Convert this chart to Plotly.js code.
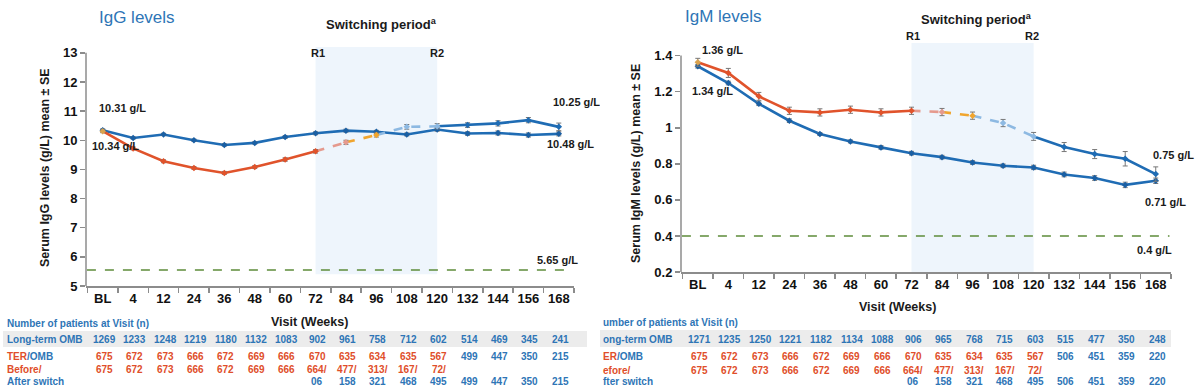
<!DOCTYPE html>
<html><head><meta charset="utf-8">
<script src="https://cdn.plot.ly/plotly-3.0.1.min.js"></script>
<style>
html,body{margin:0;padding:0;background:#fff;overflow:hidden;width:1200px;height:390px}
#igg,#igm{position:absolute;top:0;width:600px;height:390px;overflow:hidden}
#igg{left:0}#igm{left:600px}
</style>
</head><body><div id="igg"></div><div id="igm"></div>
<script>
// ---------------- data ----------------
const visits = ['BL','4','12','24','36','48','60','72','84','96','108','120','132','144','156','168'];

const iggLongTerm   = [10.34,10.08,10.20,10.00,9.84,9.91,10.11,10.24,10.33,10.29,10.20,10.37,10.23,10.25,10.18,10.22];
const iggLongTermSE = [0.05,0.04,0.04,0.04,0.04,0.04,0.05,0.05,0.05,0.05,0.05,0.06,0.06,0.07,0.07,0.07];
const iggTerOmb     = [10.31,9.72,9.28,9.05,8.88,9.08,9.34,9.62,9.93,10.18,10.46,10.48,10.52,10.58,10.69,10.46];
const iggTerOmbSE   = [0.05,0.05,0.05,0.05,0.05,0.05,0.06,0.06,0.07,0.07,0.08,0.09,0.08,0.09,0.09,0.13];
const iggThreshold  = 5.55;

const igmLongTerm   = [1.341,1.248,1.133,1.039,0.965,0.924,0.891,0.859,0.837,0.807,0.789,0.780,0.741,0.721,0.683,0.706];
const igmLongTermSE = [0.010,0.010,0.010,0.010,0.008,0.008,0.010,0.010,0.010,0.010,0.010,0.012,0.013,0.013,0.015,0.015];
const igmTerOmb     = [1.363,1.304,1.174,1.094,1.085,1.100,1.085,1.094,1.087,1.067,1.026,0.952,0.893,0.854,0.828,0.743];
const igmTerOmbSE   = [0.022,0.025,0.022,0.020,0.020,0.020,0.020,0.020,0.020,0.020,0.020,0.022,0.025,0.025,0.040,0.040];
const igmThreshold  = 0.4;

const iggNLongTerm = [1269,1233,1248,1219,1180,1132,1083,902,961,758,712,602,514,469,345,241];
const iggNTerOmb   = [675,672,673,666,672,669,666,670,635,634,635,567,499,447,350,215];
const iggNBefore   = [675,672,673,666,672,669,666,664,477,313,167,72];
const iggNAfter    = ['06','158','321','468','495','499','447','350','215'];

const igmNLongTerm = [1271,1235,1250,1221,1182,1134,1088,906,965,768,715,603,515,477,350,248];
const igmNTerOmb   = [675,672,673,666,672,669,666,670,635,634,635,567,506,451,359,220];
const igmNBefore   = [675,672,673,666,672,669,666,664,477,313,167,72];
const igmNAfter    = ['06','158','321','468','495','506','451','359','220'];

const iggRowLabels = {head:'Number of patients at Visit (n)', lt:'Long-term OMB', terA:'TER', terB:'/OMB', before:'Before/', after:'After switch'};
// the IgM panel's row labels are cropped at the panel's left edge in the reference
const igmRowLabels = {head:'umber of patients at Visit (n)', lt:'ong-term OMB', terA:'ER', terB:'/OMB', before:'efore/', after:'fter switch'};

const switchStart = '72', switchEnd = '120';

// ---------------- styles ----------------
const ORANGE='#E0532B', SALMON='#E59A8E', GOLD='#F0A52E', LIGHTBLUE='#8DB9E2', BLUE='#1F6CB4';
const TBLUE='#2E75B6', TRED='#E04E2A', ERR='#777777', AX='#8c8c8c', GREEN='#5E8C3A', SHADE='#EEF5FC';
const FONT='Liberation Sans, Arial, sans-serif';
const segStyles = [
  {from:'BL', to:'72',  color:ORANGE,    dash:'solid'},
  {from:'72', to:'84',  color:SALMON,    dash:'dash'},
  {from:'84', to:'96',  color:GOLD,      dash:'dash'},
  {from:'96', to:'120', color:LIGHTBLUE, dash:'dash'},
  {from:'120',to:'168', color:BLUE,      dash:'solid'}
];

function build(id, c){
  const W=600,H=390,M=c.margin;
  const pw=W-M.l-M.r, ph=H-M.t-M.b;
  const X = px => (px - c.offset - M.l)/pw;
  const Y = py => (H - M.b - py)/ph;
  const traces=[];
  traces.push({x:visits,y:c.lt,mode:'lines',line:{color:BLUE,width:2.6},hoverinfo:'skip'});
  segStyles.forEach(s=>{
    const a=visits.indexOf(s.from), b=visits.indexOf(s.to);
    traces.push({x:visits.slice(a,b+1),y:c.ter.slice(a,b+1),mode:'lines',
      line:{color:s.color,width:2.6,dash:s.dash},hoverinfo:'skip'});
  });
  const terColors = visits.map((v,i)=>{
    if(i===0) return '#D9A24E';
    for(let k=segStyles.length-1;k>=0;k--){ if(i>visits.indexOf(segStyles[k].from)) return segStyles[k].color; }
    return ORANGE;
  });
  traces.push({x:visits,y:c.lt,mode:'markers',marker:{color:'#1A5FA3',size:5,symbol:'diamond'},
    error_y:{type:'data',array:c.ltSE,visible:true,color:ERR,thickness:1,width:2.5}});
  traces.push({x:visits,y:c.ter,mode:'markers',marker:{color:terColors,size:5,symbol:'diamond'},
    error_y:{type:'data',array:c.terSE,visible:true,color:ERR,thickness:1,width:2.5}});

  const ann=[];
  const A=(text,px,py,o)=>ann.push(Object.assign({text:text,xref:'paper',yref:'paper',x:X(px),y:Y(py),
     showarrow:false,xanchor:'center',yanchor:'middle',font:{family:FONT,size:11,color:'#1a1a1a',weight:'bold'}},o||{}));
  A(c.title, c.titleX, 17, {xanchor:'left', font:{family:FONT,size:17,color:TBLUE}});
  A('Switching period<sup>a</sup>', c.swX, c.swY, {font:{family:FONT,size:13,color:'#1a1a1a',weight:'bold'}});
  A('R1', c.r1X, c.rY); A('R2', c.r2X, c.rY);
  c.labels.forEach(l=>A(l[0],l[1],l[2]));
  A(c.ytitle, c.ytX, c.ytY, {textangle:-90, font:{family:FONT,size:12.5,color:'#1a1a1a',weight:'bold'}});
  A('Visit (Weeks)', c.xtX, c.xtY, {font:{family:FONT,size:12.5,color:'#1a1a1a',weight:'bold'}});

  // table
  const R=c.rows, L=c.rowLabels, tf=(col)=>({family:FONT,size:10,color:col,weight:'bold'});
  A(L.head, c.tblX, R.head, {xanchor:'left',font:tf(TBLUE)});
  A(L.lt, c.tblX, R.lt, {xanchor:'left',font:tf(TBLUE)});
  A('<span style="color:'+TRED+'">'+L.terA+'</span>'+L.terB, c.tblX, R.ter, {xanchor:'left',font:tf(TBLUE)});
  A(L.before, c.tblX, R.before, {xanchor:'left',font:tf(TRED)});
  A(L.after, c.tblX, R.after, {xanchor:'left',font:tf(TBLUE)});
  const swIdx = visits.indexOf(switchEnd);
  const cell=(text,i,py,col)=>ann.push({text:String(text),xref:'x',yref:'paper',x:i+0.05,y:Y(py),showarrow:false,
     xanchor:'center',yanchor:'middle',font:tf(col)});
  c.nLt.forEach((v,i)=>cell(v,i,R.lt,TBLUE));
  c.nTer.forEach((v,i)=>cell(v,i,R.ter,i<=swIdx?TRED:TBLUE));
  const s0=visits.indexOf(switchStart);
  c.nBefore.forEach((v,i)=>cell(i>=s0?v+'/':v,i,R.before,TRED));
  c.nAfter.forEach((v,i)=>cell(v,s0+i,R.after,TBLUE));

  const shapes=[
    {type:'rect',xref:'x',yref:'y',x0:visits.indexOf(switchStart),x1:visits.indexOf(switchEnd),
      y0:c.shadeY0,y1:c.yr[1],fillcolor:SHADE,line:{width:0},layer:'below'},
    {type:'line',xref:'x',x0:-0.52,x1:15.45,yref:'y',y0:c.thr,y1:c.thr,line:{color:GREEN,width:1.6,dash:'dash'},layer:'below'},
    {type:'line',xref:'paper',x0:0,x1:0,yref:'y',y0:c.yr[0],y1:c.ytop,line:{color:AX,width:1.5}},
    {type:'rect',xref:'paper',yref:'paper',x0:X(c.bandX0),x1:X(c.bandX1),y0:Y(R.bandB),y1:Y(R.bandT),
      fillcolor:'#ECECEC',line:{width:0},layer:'below'}
  ];

  const tickfont={family:FONT,size:13,color:'#111',weight:'bold'};
  const layout={
    width:W,height:H,margin:{l:M.l,r:M.r,t:M.t,b:M.b,pad:0},
    paper_bgcolor:'#fff',plot_bgcolor:'rgba(0,0,0,0)',showlegend:false,
    xaxis:{type:'category',categoryorder:'array',categoryarray:visits,range:[-0.55,15.5],tickangle:0,
      ticks:'outside',tickson:'boundaries',ticklen:5,tickwidth:1.5,tickcolor:AX,
      showline:true,linecolor:AX,linewidth:1.5,showgrid:false,zeroline:false,tickfont:tickfont,fixedrange:true},
    yaxis:{range:c.yr,tickvals:c.ticks,ticktext:c.tickText,ticks:'outside',ticklen:5,tickwidth:1.5,tickcolor:AX,
      showline:false,showgrid:false,zeroline:false,tickfont:tickfont,fixedrange:true},
    shapes:shapes,annotations:ann
  };
  Plotly.newPlot(id,traces,layout,{staticPlot:true,displayModeBar:false});
}

build('igg',{
  offset:0, margin:{l:86,r:26,t:47,b:104},
  lt:iggLongTerm, ltSE:iggLongTermSE, ter:iggTerOmb, terSE:iggTerOmbSE, thr:iggThreshold,
  yr:[5,13.2], ytop:13, ticks:[5,6,7,8,9,10,11,12,13], tickText:['5','6','7','8','9','10','11','12','13'],
  shadeY0:5.4,
  title:'IgG levels', titleX:97, swX:381, swY:24, r1X:318, r2X:437, rY:53,
  labels:[['10.31 g/L',122,108],['10.34 g/L',115,146],['10.25 g/L',576,102],['10.48 g/L',570,144],['5.65 g/L',557,260]],
  ytitle:'Serum IgG levels (g/L) mean ± SE', ytX:45, ytY:168,
  xtX:309, xtY:322,
  tblX:5, bandX0:3, bandX1:587, rowLabels:iggRowLabels,
  rows:{head:323, lt:339, ter:356, before:369, after:381, bandT:331, bandB:347},
  nLt:iggNLongTerm, nTer:iggNTerOmb, nBefore:iggNBefore, nAfter:iggNAfter
});

build('igm',{
  offset:600, margin:{l:81,r:29,t:43,b:118},
  lt:igmLongTerm, ltSE:igmLongTermSE, ter:igmTerOmb, terSE:igmTerOmbSE, thr:igmThreshold,
  yr:[0.2,1.47], ytop:1.4, ticks:[0.2,0.4,0.6,0.8,1,1.2,1.4], tickText:['0.2','0.4','0.6','0.8','1','1.2','1.4'],
  shadeY0:0.2,
  title:'IgM levels', titleX:683, swX:976, swY:19, r1X:913, r2X:1032, rY:36,
  labels:[['1.36 g/L',722,50],['1.34 g/L',712,91],['0.75 g/L',1173,155],['0.71 g/L',1165,202],['0.4 g/L',1154,250]],
  ytitle:'Serum IgM levels (g/L) mean ± SE', ytX:636, ytY:164,
  xtX:897, xtY:307,
  tblX:601, bandX0:600, bandX1:1171, rowLabels:igmRowLabels,
  rows:{head:322, lt:339, ter:356, before:370, after:381, bandT:330, bandB:347},
  nLt:igmNLongTerm, nTer:igmNTerOmb, nBefore:igmNBefore, nAfter:igmNAfter
});
</script>
</body></html>
